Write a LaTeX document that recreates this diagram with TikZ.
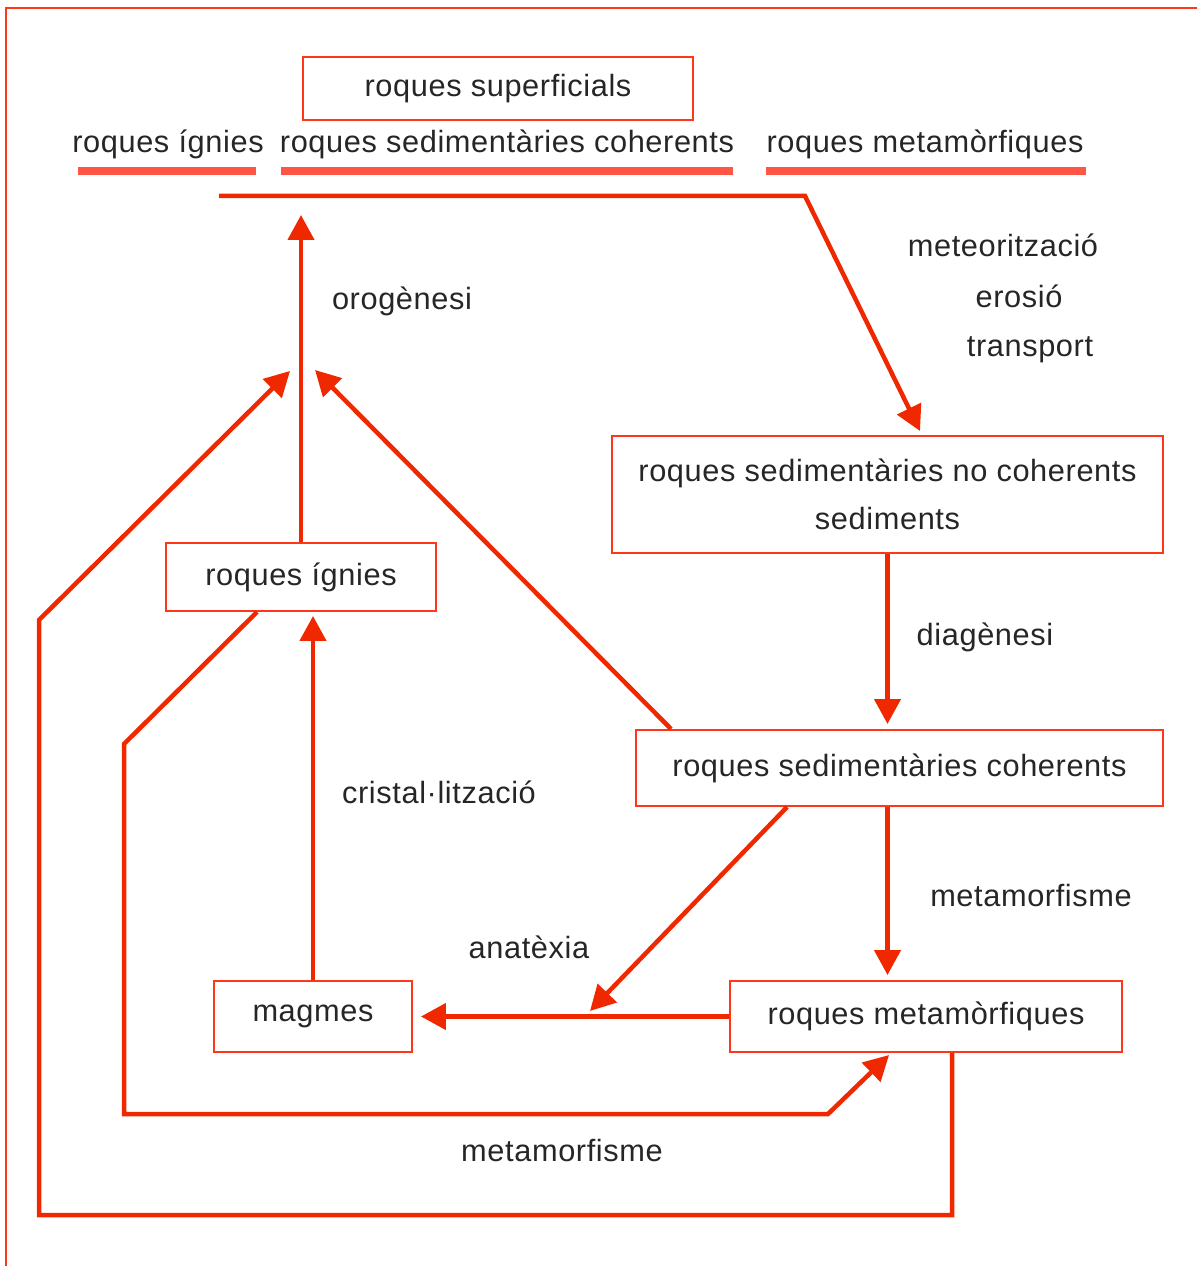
\documentclass[tikz,border=0pt]{standalone}
\usepackage{fontspec}
\setmainfont[LetterSpace=2]{Liberation Sans}
\usepackage{xcolor}
\usetikzlibrary{positioning, calc, arrows.meta}
\definecolor{linered}{RGB}{240,40,0}
\definecolor{boxred}{RGB}{255,55,25}
\definecolor{ulred}{RGB}{255,85,70}

\begin{document}
\begin{tikzpicture}
        [
        x=0.02cm, y=-0.02cm,
        every node/.style = {font=\fontsize{17.5}{27}\selectfont, text=black!85},
        box/.style = {draw=boxred, line width=0.04cm, inner sep=0pt, align=center},
        arr/.style = {draw=linered, line width=0.09cm, -{Triangle[length=0.5cm, width=0.52cm]}},
        uline/.style = {draw=ulred, line width=0.16cm}
        ]
    \useasboundingbox (0,0) rectangle (1197,1266);
    \draw[boxred, line width=0.04cm] (6,1266) -- (6,8) -- (1197,8);

    % top row
    \node[box, minimum width=7.8cm, minimum height=1.26cm] (sup) at (498,88.5) {roques superficials};
    \node (tign) at (168,144) {roques ígnies};
    \node (tsed) at (507,144) {roques sedimentàries coherents};
    \node (tmet) at (925,144) {roques metamòrfiques};
    \draw[uline] (78,171) -- (256,171);
    \draw[uline] (281,171) -- (733,171);
    \draw[uline] (766,171) -- (1086,171);

    % boxes
    \node[box, minimum width=11.02cm, minimum height=2.34cm] (nc) at (887.5,494.5)
        {roques sedimentàries no coherents\\sediments};
    \node[box, minimum width=10.54cm, minimum height=1.52cm] (coh) at (899.5,768) {roques sedimentàries coherents};
    \node[box, minimum width=7.84cm, minimum height=1.42cm] (met) at (926,1016.5) {roques metamòrfiques};
    \node[box, minimum width=3.96cm, minimum height=1.42cm] (mag) at (313,1016.5) {magmes};
    \node[box, minimum width=5.4cm, minimum height=1.36cm] (ign) at (301,577) {roques ígnies};

    % labels
    \node (meteo) at (1003,245) {meteorització};
    \node (eros) at (1019,296) {erosió};
    \node (trans) at (1030,350) {transport};
    \node (oro) at (402,301) {orogènesi};
    \node (diag) at (985,637) {diagènesi};
    \node (crist) at (439,792) {cristal·lització};
    \node (anat) at (529,947) {anatèxia};
    \node (metA) at (1031,896) {metamorfisme};
    \node (metB) at (562,1150) {metamorfisme};

    \coordinate (surf) at (219,196);
    \coordinate (tipL) at (290,371);
    \coordinate (tipR) at (315,370);
    \coordinate (melt) at (590,1011);

    \draw[arr] (surf) -- (805,196) -- ($(nc.north)+(32.5,-4)$);
    \draw[arr, shorten >=0.38cm] (ign.north) -- (ign.north |- surf);
    \draw[arr, shorten >=0.08cm] (mag.north) -- (mag.north |- ign.south);
    \draw[arr, shorten >=0.1cm] (nc.south) -- (nc.south |- coh.north);
    \draw[arr, shorten >=0.1cm] (nc.south |- coh.south) -- (nc.south |- met.north);
    \draw[arr, shorten >=0.16cm] (met.west) -- (mag.east);
    \draw[arr] ($(coh.south west)+(152,0)$) -- (melt);
    \draw[arr] ($(coh.north west)+(36,0)$) -- (tipR);
    \draw[arr] ($(met.south)+(26,0)$) -- ++(0,162) -| (39,620) -- (tipL);
    \draw[arr] ($(ign.south west)+(92,0)$) -- (124,744) -- (124,1114) -- (828,1114)
        -- ($(met.south west)+(160,2)$);
\end{tikzpicture}
\end{document}
